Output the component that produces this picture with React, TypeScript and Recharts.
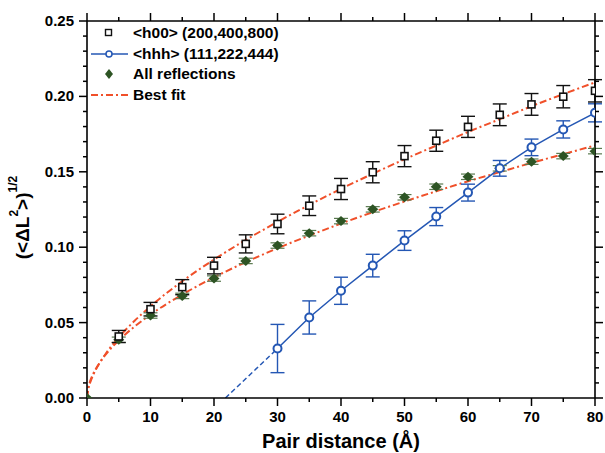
import { ComposedChart, Line, Scatter, XAxis, YAxis, ErrorBar, Legend } from 'recharts';

const FONT = '"Liberation Sans", Arial, Helvetica, sans-serif';
const RED = '#f0502a';
const BLUE = '#2457b4';
const GREEN = '#2d5424';

// <h00> (200,400,800)
const h00X = [5, 10, 15, 20, 25, 30, 35, 40, 45, 50, 55, 60, 65, 70, 75, 80];
const h00Y = [0.0408, 0.0589, 0.0735, 0.0878, 0.1022, 0.1154, 0.1275, 0.1386, 0.1497, 0.1604, 0.1706, 0.1798, 0.1878, 0.1947, 0.1998, 0.2037];
const h00Err = [0.004, 0.0045, 0.005, 0.0055, 0.006, 0.0065, 0.0065, 0.007, 0.007, 0.007, 0.007, 0.007, 0.0072, 0.0072, 0.0074, 0.0074];

// <hhh> (111,222,444)
const hhhX = [30, 35, 40, 45, 50, 55, 60, 65, 70, 75, 80];
const hhhY = [0.0328, 0.0534, 0.0711, 0.0878, 0.1044, 0.1203, 0.1362, 0.1523, 0.1662, 0.1781, 0.1891];
const hhhErr = [0.016, 0.011, 0.009, 0.0075, 0.0065, 0.006, 0.0056, 0.0052, 0.0055, 0.0057, 0.006];
// dashed extrapolation of <hhh> down to zero
const hhhExtX = [21.8, 30];
const hhhExtY = [0, 0.0328];

// all reflections
const allX = [0, 5, 10, 15, 20, 25, 30, 35, 40, 45, 50, 55, 60, 65, 70, 75, 80];
const allY = [0, 0.0386, 0.0547, 0.0677, 0.0792, 0.0909, 0.1011, 0.1093, 0.1173, 0.1251, 0.1331, 0.1401, 0.1467, 0.1523, 0.1567, 0.1604, 0.1637];
const allErr = [0, 0.0018, 0.0018, 0.0018, 0.0018, 0.0018, 0.0018, 0.0018, 0.0018, 0.0018, 0.0018, 0.0018, 0.0018, 0.0018, 0.0018, 0.0018, 0.0018];

// best fit curves
const fitX = [0, 0.2, 0.5, 1, 2, 3, 5, 7.5, 10, 15, 20, 25, 30, 35, 40, 45, 50, 55, 60, 65, 70, 75, 80];
const fitUpperY = [0, 0.0059, 0.0103, 0.0155, 0.0233, 0.0297, 0.0402, 0.0512, 0.0608, 0.0774, 0.0918, 0.1048, 0.1168, 0.128, 0.1387, 0.1487, 0.1583, 0.1674, 0.1764, 0.1849, 0.1935, 0.2015, 0.2093];
const fitLowerY = [0, 0.0068, 0.0112, 0.0162, 0.0234, 0.0291, 0.0382, 0.0474, 0.0553, 0.0686, 0.08, 0.0901, 0.0993, 0.1077, 0.1157, 0.1232, 0.1303, 0.1371, 0.1437, 0.1498, 0.1559, 0.1617, 0.1675];

const X_TICKS = [0, 5, 10, 15, 20, 25, 30, 35, 40, 45, 50, 55, 60, 65, 70, 75, 80];
const Y_TICKS = [0, 0.01, 0.02, 0.03, 0.04, 0.05, 0.06, 0.07, 0.08, 0.09, 0.1, 0.11, 0.12, 0.13, 0.14, 0.15, 0.16, 0.17, 0.18, 0.19, 0.2, 0.21, 0.22, 0.23, 0.24, 0.25];

const zip = (xs: number[], ys: number[], errs?: number[]) =>
  xs.map((x, i) => ({ x, y: ys[i], err: errs ? errs[i] : 0 }));

const h00Data = zip(h00X, h00Y, h00Err);
const hhhData = zip(hhhX, hhhY, hhhErr);
const hhhExtData = zip(hhhExtX, hhhExtY);
const allData = zip(allX, allY, allErr);
const fitUpper = zip(fitX, fitUpperY);
const fitLower = zip(fitX, fitLowerY);

const MAJOR = 8;
const MINOR = 4;

const isMajorX = (v: number) => v % 10 === 0;
const isMajorY = (v: number) => Math.round(v * 100) % 5 === 0;

const BottomTick = ({ x, y, payload }: any) => {
  const major = isMajorX(payload.value);
  return (
    <g>
      <line x1={x} y1={y} x2={x} y2={y + (major ? MAJOR : MINOR)} stroke="#000" strokeWidth={1.5} />
      {major && (
        <text x={x} y={y + 24} textAnchor="middle" fontFamily={FONT} fontWeight="bold" fontSize={15} fill="#000">
          {payload.value}
        </text>
      )}
    </g>
  );
};

const TopTick = ({ x, y, payload }: any) => (
  <line x1={x} y1={y} x2={x} y2={y - (isMajorX(payload.value) ? MAJOR : MINOR)} stroke="#000" strokeWidth={1.5} />
);

const LeftTick = ({ x, y, payload }: any) => {
  const major = isMajorY(payload.value);
  return (
    <g>
      <line x1={x} y1={y} x2={x - (major ? MAJOR : MINOR)} y2={y} stroke="#000" strokeWidth={1.5} />
      {major && (
        <text x={x - 13} y={y + 5} textAnchor="end" fontFamily={FONT} fontWeight="bold" fontSize={15} fill="#000">
          {payload.value.toFixed(2)}
        </text>
      )}
    </g>
  );
};

const RightTick = ({ x, y, payload }: any) => (
  <line x1={x} y1={y} x2={x + (isMajorY(payload.value) ? MAJOR : MINOR)} y2={y} stroke="#000" strokeWidth={1.5} />
);

const YTitle = (props: any) => {
  const vb = props.viewBox || { x: 0, y: 21, width: 87, height: 377 };
  const cx = vb.x + 22;
  const cy = vb.y + vb.height / 2 + 8;
  return (
    <text
      transform={`rotate(-90 ${cx} ${cy})`}
      x={cx}
      y={cy}
      textAnchor="middle"
      dominantBaseline="central"
      fontFamily={FONT}
      fontWeight="bold"
      fontSize={19}
      fill="#000"
    >
      {'(<ΔL'}
      <tspan dy={-8} fontSize={12}>2</tspan>
      <tspan dy={8}>{'>)'}</tspan>
      <tspan dy={-9} fontSize={12}>1/2</tspan>
    </text>
  );
};

const Square = ({ cx, cy }: any) => (
  <rect x={cx - 3.5} y={cy - 3.5} width={7} height={7} fill="#fff" stroke="#111" strokeWidth={1.6} />
);

const Diamond = ({ cx, cy }: any) => (
  <polygon points={`${cx},${cy - 5} ${cx + 5.5},${cy} ${cx},${cy + 5} ${cx - 5.5},${cy}`} fill={GREEN} />
);

const LEGEND_ROWS = [
  { key: 'h00', label: '<h00> (200,400,800)' },
  { key: 'hhh', label: '<hhh> (111,222,444)' },
  { key: 'all', label: 'All reflections' },
  { key: 'fit', label: 'Best fit' },
];

const LegendBox = () => (
  <div style={{ fontFamily: FONT, fontWeight: 'bold', fontSize: 15.5, color: '#000' }}>
    {LEGEND_ROWS.map((r) => (
      <div key={r.key} style={{ display: 'flex', alignItems: 'center', height: 20.5 }}>
        <svg width={44} height={20}>
          {r.key === 'h00' && <rect x={16.5} y={6.5} width={6} height={6} fill="#fff" stroke="#111" strokeWidth={1.4} />}
          {r.key === 'hhh' && (
            <g>
              <line x1={2} y1={10} x2={39} y2={10} stroke={BLUE} strokeWidth={1.5} />
              <circle cx={20} cy={10} r={3} fill="#fff" stroke={BLUE} strokeWidth={1.5} />
            </g>
          )}
          {r.key === 'all' && <polygon points="20,5 24,10 20,15 16,10" fill={GREEN} />}
          {r.key === 'fit' && (
            <line x1={2} y1={10} x2={39} y2={10} stroke={RED} strokeWidth={2} strokeDasharray="7 3 2 3" />
          )}
        </svg>
        <span>{r.label}</span>
      </div>
    ))}
  </div>
);

export default function App() {
  return (
    <div style={{ position: 'absolute', left: 0, top: 0, background: '#fff' }}>
      <ComposedChart width={605} height={453} margin={{ top: 1, right: 0, bottom: 0, left: 0 }}>
        <XAxis
          dataKey="x"
          type="number"
          domain={[0, 80]}
          ticks={X_TICKS}
          interval={0}
          allowDataOverflow
          height={55}
          tickSize={0}
          tickMargin={0}
          tickLine={false}
          tick={<BottomTick />}
          axisLine={{ stroke: '#000', strokeWidth: 1.6 }}
          label={{
            value: 'Pair distance (Å)',
            position: 'insideBottom',
            offset: 5,
            style: { fontFamily: FONT, fontWeight: 'bold', fontSize: 20, fill: '#000' },
          }}
        />
        <XAxis
          xAxisId="top"
          orientation="top"
          dataKey="x"
          type="number"
          domain={[0, 80]}
          ticks={X_TICKS}
          interval={0}
          allowDataOverflow
          height={20}
          tickSize={0}
          tickMargin={0}
          tickLine={false}
          tick={<TopTick />}
          axisLine={{ stroke: '#000', strokeWidth: 1.6 }}
        />
        <YAxis
          type="number"
          domain={[0, 0.25]}
          ticks={Y_TICKS}
          interval={0}
          allowDataOverflow
          width={87}
          tickSize={0}
          tickMargin={0}
          tickLine={false}
          tick={<LeftTick />}
          axisLine={{ stroke: '#000', strokeWidth: 1.6 }}
          label={YTitle}
        />
        <YAxis
          yAxisId="right"
          orientation="right"
          type="number"
          domain={[0, 0.25]}
          ticks={Y_TICKS}
          interval={0}
          allowDataOverflow
          width={10}
          tickSize={0}
          tickMargin={0}
          tickLine={false}
          tick={<RightTick />}
          axisLine={{ stroke: '#000', strokeWidth: 1.6 }}
        />

        <Line
          data={fitUpper}
          dataKey="y"
          type="monotone"
          stroke={RED}
          strokeWidth={2}
          strokeDasharray="7 3 2 3"
          dot={false}
          activeDot={false}
          isAnimationActive={false}
        />
        <Line
          data={fitLower}
          dataKey="y"
          type="monotone"
          stroke={RED}
          strokeWidth={2}
          strokeDasharray="7 3 2 3"
          dot={false}
          activeDot={false}
          isAnimationActive={false}
        />
        <Line
          data={hhhExtData}
          dataKey="y"
          type="linear"
          stroke={BLUE}
          strokeWidth={1.5}
          strokeDasharray="5 3"
          dot={false}
          activeDot={false}
          isAnimationActive={false}
        />
        <Line
          data={hhhData}
          dataKey="y"
          type="linear"
          stroke={BLUE}
          strokeWidth={1.5}
          dot={{ r: 4, fill: '#fff', stroke: BLUE, strokeWidth: 2 }}
          activeDot={false}
          isAnimationActive={false}
        >
          <ErrorBar dataKey="err" direction="y" width={7} stroke={BLUE} strokeWidth={1.4} />
        </Line>
        <Scatter data={allData} dataKey="y" shape={Diamond} isAnimationActive={false}>
          <ErrorBar dataKey="err" direction="y" width={7} stroke="#5a7a50" strokeWidth={1.2} />
        </Scatter>
        <Scatter data={h00Data} dataKey="y" shape={Square} isAnimationActive={false}>
          <ErrorBar dataKey="err" direction="y" width={7} stroke="#111" strokeWidth={1.4} />
        </Scatter>

        <Legend
          layout="vertical"
          align="center"
          verticalAlign="middle"
          content={<LegendBox />}
          wrapperStyle={{ top: 23, left: 89, width: 260 }}
        />
      </ComposedChart>
    </div>
  );
}
